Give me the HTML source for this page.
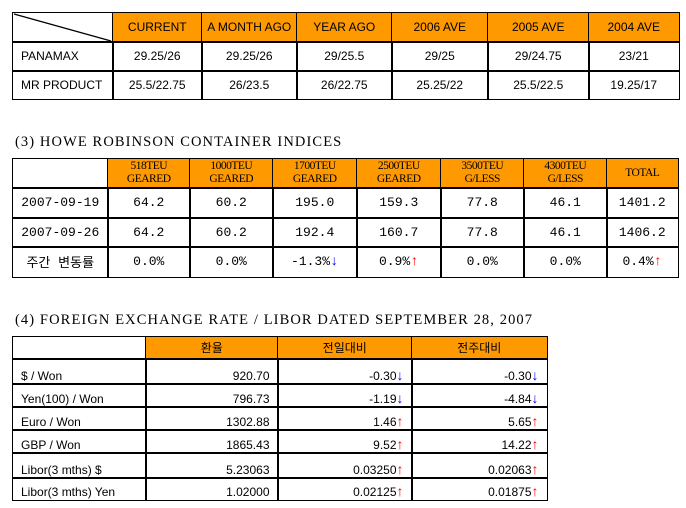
<!DOCTYPE html>
<html><head><meta charset="utf-8">
<style>
body{margin:0;width:686px;height:508px;background:#fff;position:relative;overflow:hidden}
.c{position:absolute;box-sizing:border-box;border:solid #000;display:flex;align-items:center;justify-content:center;white-space:nowrap;color:#000}
.h{background:#FF9900}
.t1{font-family:"Liberation Sans","Noto Sans CJK KR",sans-serif;font-size:12px;border-width:1.6px}
.t2{font-family:"Liberation Mono","Noto Sans CJK KR",monospace;font-size:13px;border-width:1.5px}
.t2h{font-family:"Liberation Serif",serif;font-size:11.5px;line-height:13px;text-align:center;letter-spacing:-0.5px}
.t3{font-family:"Liberation Sans","Noto Sans CJK KR",sans-serif;font-size:12px;border-width:1.5px}
.title{position:absolute;font-family:"Liberation Serif","Noto Serif CJK SC",serif;font-size:14.5px;letter-spacing:1.1px;white-space:nowrap}
.up{color:#f00;font-weight:bold;font-size:14px}
.dn{color:#00f;font-weight:bold;font-size:14px}
</style></head><body>
<div class="title" style="left:15px;top:134px">(3) HOWE ROBINSON CONTAINER INDICES</div>
<div class="title" style="left:15px;top:312px">(4) FOREIGN EXCHANGE RATE / LIBOR DATED SEPTEMBER 28, 2007</div>
<svg style="position:absolute;left:0;top:0;z-index:2" width="686" height="60"><line x1="14" y1="14" x2="111" y2="41" stroke="#000" stroke-width="1.3"/></svg>
<script>
const t1Cols=[12,112,201,296,391,487,588,678];
const t1Rows=[12,41,70,98];
const t1Head=["","CURRENT","A MONTH AGO","YEAR AGO","2006 AVE","2005 AVE","2004 AVE"];
const t1Data=[["PANAMAX","29.25/26","29.25/26","29/25.5","29/25","29/24.75","23/21"],
["MR PRODUCT","25.5/22.75","26/23.5","26/22.75","25.25/22","25.5/22.5","19.25/17"]];
const t2Cols=[12,107,189,272,356,440,523,606,677];
const t2Rows=[158,187,217,246,276];
const t2Head=["","518TEU<br>GEARED","1000TEU<br>GEARED","1700TEU<br>GEARED","2500TEU<br>GEARED","3500TEU<br>G/LESS","4300TEU<br>G/LESS","TOTAL"];
const t2Data=[["2007-09-19","64.2","60.2","195.0","159.3","77.8","46.1","1401.2"],
["2007-09-26","64.2","60.2","192.4","160.7","77.8","46.1","1406.2"],
["주간 변동률","0.0%","0.0%","-1.3%D","0.9%U","0.0%","0.0%","0.4%U"]];
const t3Cols=[12,145,277,411,546];
const t3Rows=[336,358,383,406,429,452,477,499];
const t3Head=["","환율","전일대비","전주대비"];
const t3Data=[["$ / Won","920.70","-0.30D","-0.30D"],["Yen(100) / Won","796.73","-1.19D","-4.84D"],
["Euro / Won","1302.88","1.46U","5.65U"],["GBP / Won","1865.43","9.52U","14.22U"],
["Libor(3 mths) $","5.23063","0.03250U","0.02063U"],["Libor(3 mths) Yen","1.02000","0.02125U","0.01875U"]];
function fmt(s){
  if(s.endsWith("U"))return s.slice(0,-1)+'<span class="up">&#8593;</span>';
  if(s.endsWith("D"))return s.slice(0,-1)+'<span class="dn">&#8595;</span>';
  return s;
}
function build(cols,rows,head,data,cls,tname,opts){
  const all=[head].concat(data);
  for(let r=0;r<all.length;r++){
    for(let c=0;c<cols.length-1;c++){
      const d=document.createElement('div');
      d.className='c '+cls+(r===0&&c>0?' h':'');
      
      
      d.style.left=cols[c]+'px';d.style.top=rows[r]+'px';
      d.style.width=(cols[c+1]-cols[c]+1.5)+'px';d.style.height=(rows[r+1]-rows[r]+1.5)+'px';
      let txt=r===0?all[r][c]:fmt(all[r][c]);
      if(r===0&&opts.hcls){txt='<span class="'+opts.hcls+'">'+txt+'</span>';}
      d.innerHTML=txt;
      if(r>0&&c===0&&opts.leftFirst){d.style.justifyContent='flex-start';d.style.paddingLeft='8px';}
      if(r>0&&c>0&&opts.right){d.style.justifyContent='flex-end';d.style.paddingRight='8px';}
      if(opts.bottom&&r>0){d.style.alignItems='flex-end';d.style.paddingBottom='1px';}
      document.body.appendChild(d);
    }
  }
}
build(t1Cols,t1Rows,t1Head,t1Data,'t1','market-table',{leftFirst:true});
build(t2Cols,t2Rows,t2Head,t2Data,'t2','container-table',{hcls:'t2h'});
build(t3Cols,t3Rows,t3Head,t3Data,'t3','fx-table',{leftFirst:true,right:true,bottom:true});
</script>
</body></html>
